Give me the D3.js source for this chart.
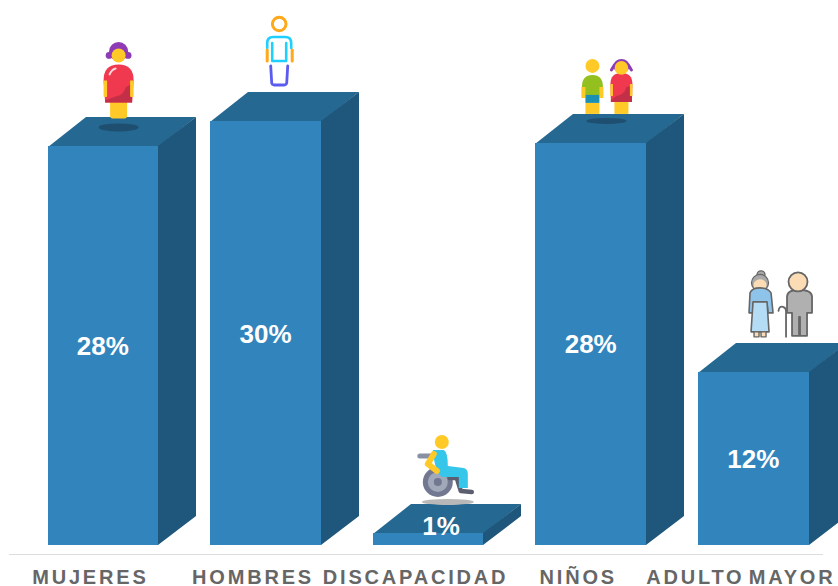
<!doctype html>
<html>
<head>
<meta charset="utf-8">
<title>Porcentajes</title>
<style>
  body { margin: 0; background: #fff; }
  svg { display: block; }
  .axis text { font-family: "Liberation Sans", Arial, sans-serif; font-weight: bold; font-size: 20px; letter-spacing: 2.8px; fill: #666; }
  .pct { font-family: "Liberation Sans", Arial, sans-serif; font-weight: bold; font-size: 26px; fill: #fff; text-anchor: middle; }
</style>
</head>
<body>
<div id="chart"></div>
<script src="https://d3js.org/d3.v7.min.js"></script>
<script>
var categories = ["MUJERES", "HOMBRES", "DISCAPACIDAD", "NIÑOS", "ADULTO MAYOR"];
var values = [28.2, 30, 0.85, 28.45, 12.25];

var w = 838, h = 586;
var baseY = 545;
var depthX = 38, depthY = 29;

var svg = d3.select("#chart").append("svg").attr("width", w).attr("height", h);

var x = d3.scaleBand().domain(categories).range([47.6, 808.6]).paddingInner(0.32).paddingOuter(0);
var y = d3.scaleLinear().domain([0, 30]).range([baseY, 121]);

// whole pixels, otherwise white shows through the seams between faces
function left(d) { return Math.round(x(d.cat)); }
function right(d) { return Math.round(x(d.cat) + x.bandwidth()); }
function top_(d) { return Math.round(y(d.val)); }

// little helpers for the pictograms
function circ(g, cx, cy, r, fill) {
  return g.append("circle").attr("cx", cx).attr("cy", cy).attr("r", r).attr("fill", fill);
}
function ell(g, cx, cy, rx, ry, fill) {
  return g.append("ellipse").attr("cx", cx).attr("cy", cy).attr("rx", rx).attr("ry", ry).attr("fill", fill);
}
function shape(g, d, fill, stroke, sw) {
  return g.append("path").attr("d", d).attr("fill", fill || "none")
    .attr("stroke", stroke || "none").attr("stroke-width", sw || 0)
    .attr("stroke-linecap", "round").attr("stroke-linejoin", "round");
}

var yellow = "#ffc928", red = "#f0384f", redDark = "#c42f48", purple = "#8e3bb5";

function woman(g) {
  ell(g, 0, 0, 20, 4, "#1e4f70");
  shape(g, "M-8.5,-26H8.5V-12Q8.5,-9 6,-9H-6Q-8.5,-9 -8.5,-12Z", yellow);
  shape(g, "M-15,-47Q-15,-63 0,-63Q15,-63 15,-47L13.5,-25H-13.5Z", red);
  shape(g, "M-13.5,-27L-3,-31Q5,-32 7,-40L13.5,-44L13.5,-25H-13.5Z", redDark);
  shape(g, "M-15,-47H-11.5V-31Q-13,-30 -15,-31ZM15,-47H11.5V-31Q13,-30 15,-31Z", yellow);
  shape(g, "M-9,-53Q-7,-58 -3,-59", null, "#ffd7dc", 2);
  circ(g, 0, -76, 9.5, purple);
  circ(g, -9.5, -72, 3.4, purple);
  circ(g, 9.5, -72, 3.4, purple);
  circ(g, 0, -72, 7, yellow);
}

function man(g) {
  g.append("circle").attr("cx", 0).attr("cy", -62).attr("r", 6.8)
    .attr("fill", "none").attr("stroke", "#ffa91a").attr("stroke-width", 3);
  shape(g, "M-12,-38V-43Q-12,-49 -6,-49H6Q12,-49 12,-43V-38", null, "#1fd0ff", 2.6);
  shape(g, "M-7,-43V-25H7V-43", null, "#1fd0ff", 2.6);
  shape(g, "M-12,-36V-25M13,-36V-25", null, "#ffa91a", 3);
  shape(g, "M-8.5,-20L-7.5,-3Q-7,-1 -5,-1H5Q7,-1 7.5,-3L8.5,-20", null, "#5b5bf0", 2.8);
}

function wheelchair(g) {
  ell(g, 1, 0, 26, 3, "#b8b8b8");
  shape(g, "M-27,-46H-15", null, "#8a90a3", 5);
  circ(g, -9, -20, 15, "#72788f");
  circ(g, -9, -20, 10, "#a0a8ba");
  circ(g, -9, -20, 4, "#72788f");
  shape(g, "M3,-24H10L14,-11L25,-10", null, "#5c5f70", 4.5);
  shape(g, "M-14,-52L-3,-52Q1,-50 1,-36L17,-34Q21,-33 21,-28L21,-14H12L12,-25H-5Q-12,-30 -14,-52Z", "#35c6ea");
  shape(g, "M-13,-48L-19,-38L-10,-31", null, yellow, 6);
  circ(g, -5, -60, 7, yellow);
}

function kids(g) {
  ell(g, 0, 1, 20, 3, "#1e4f70");
  // boy
  shape(g, "M-21,-17H-7V-6H-21Z", yellow);
  shape(g, "M-24.5,-33Q-24.5,-45 -14,-45Q-3.5,-45 -3.5,-33V-25H-24.5Z", "#93c01f");
  shape(g, "M-25,-33H-21V-22H-25ZM-7,-33H-3V-22H-7Z", yellow);
  shape(g, "M-21,-25H-7V-17H-21Z", "#1c8fb5");
  circ(g, -14, -54, 7, yellow);
  // girl
  shape(g, "M8,-18H22V-6H8Z", yellow);
  shape(g, "M4,-36Q4,-47 15,-47Q26,-47 26,-36L25.5,-18H4.5Z", red);
  shape(g, "M4.5,-20L10,-24Q18,-25 20,-33L25,-34L25.5,-18H4.5Z", redDark);
  shape(g, "M4,-36H6.5V-24H4ZM23.5,-36H26V-24H23.5Z", yellow);
  ell(g, 15, -54, 8, 7, purple);
  shape(g, "M8,-55L5,-50M22,-55L25,-50", null, purple, 3);
  circ(g, 15, -52, 6.8, yellow);
}

function elders(g) {
  var line = "#666";
  // abuela
  circ(g, -19, -62, 4, "#a9a9a9").attr("stroke", line).attr("stroke-width", 1.3);
  circ(g, -20, -54, 8.5, "#a9a9a9").attr("stroke", line).attr("stroke-width", 1.3);
  ell(g, -20, -52, 6.5, 5.5, "#fbdcb5");
  shape(g, "M-31,-24L-30,-44Q-28,-49 -20,-49Q-12,-49 -9,-44L-7,-24H-12L-13,-34H-27L-27,-24Z", "#8fc4ea", line, 1.6);
  shape(g, "M-27,-35H-13L-11,-5H-29Z", "#b5dcf5", line, 1.6);
  shape(g, "M-26,-5H-21V0H-26ZM-19,-5H-14V0H-19Z", "#fbdcb5", line, 1.4);
  // abuelo
  shape(g, "M7,-24V-40Q7,-47 19,-47Q32,-47 32,-40V-24H27V-1H20V-20H19V-1H12V-24Z", "#b0b0b0", line, 1.8);
  circ(g, 18, -55, 9.5, "#fbdcb5").attr("stroke", line).attr("stroke-width", 1.8);
  shape(g, "M-1.5,-26Q-1,-31 3,-30Q6,-29 6,-26V0", null, line, 1.8);
}

var icons = [
  { draw: woman, dx: 71, dy: -19 },
  { draw: man, dx: 69, dy: -35 },
  { draw: wheelchair, dx: 74, dy: -31 },
  { draw: kids, dx: 71, dy: -23 },
  { draw: elders, dx: 82, dy: -35 }
];

var rows = categories.map(function(c, i) { return { cat: c, val: values[i], icon: icons[i] }; });

var bars = svg.selectAll("g.bar").data(rows).enter().append("g").attr("class", "bar");

// top face
bars.append("path").attr("fill", "#256891").attr("d", function(d) {
  var l = left(d), r = right(d), t = top_(d);
  return "M" + l + "," + (t + 1) + "L" + (l + depthX) + "," + (t - depthY) +
    "L" + (r + depthX) + "," + (t - depthY) + "L" + r + "," + (t + 1) + "Z";
});
// side face
bars.append("path").attr("fill", "#1f577c").attr("d", function(d) {
  var r = right(d), t = top_(d);
  return "M" + (r - 1) + "," + t + "L" + r + "," + t + "L" + (r + depthX) + "," + (t - depthY) +
    "L" + (r + depthX) + "," + (baseY - depthY) + "L" + r + "," + baseY + "L" + (r - 1) + "," + baseY + "Z";
});
// front face
bars.append("rect").attr("fill", "#3285bc")
  .attr("x", left)
  .attr("y", top_)
  .attr("width", function(d) { return right(d) - left(d); })
  .attr("height", function(d) { return baseY - top_(d); });

bars.each(function(d) {
  var g = d3.select(this).append("g")
    .attr("transform", "translate(" + (x(d.cat) + d.icon.dx) + "," + (y(d.val) + d.icon.dy) + ")");
  d.icon.draw(g);
});

// % labels; the short bar gets its label pushed up onto the top face
function isShort(d) { return baseY - y(d.val) < 30; }
bars.append("text").attr("class", "pct")
  .attr("x", function(d) { return x(d.cat) + x.bandwidth() / 2 + (isShort(d) ? 13 : 0); })
  .attr("y", function(d) {
    var t = y(d.val);
    return (isShort(d) ? t - 7 : (t + baseY) / 2) + 9.5;
  })
  .text(function(d) { return Math.round(d.val) + "%"; });

// category axis
svg.append("line").attr("x1", 9).attr("x2", 823).attr("y1", 554.5).attr("y2", 554.5)
  .attr("stroke", "#ddd").attr("stroke-width", 1);

var axis = svg.append("g").attr("class", "axis").attr("transform", "translate(0,554)")
  .call(d3.axisBottom(x).tickSize(0));
axis.select(".domain").remove();
axis.selectAll("text").attr("font-family", null).attr("font-size", null)
  .attr("dy", null).attr("y", 29.5).attr("dx", -12.5).style("word-spacing", "-4px");
axis.attr("font-family", null).attr("font-size", null);
</script>
</body>
</html>
